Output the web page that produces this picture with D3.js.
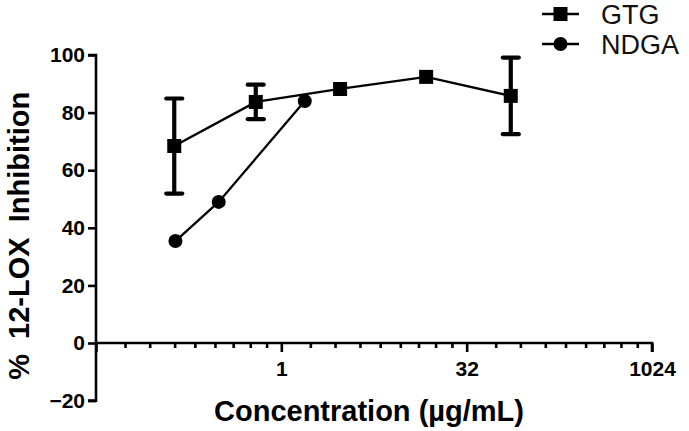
<!DOCTYPE html>
<html>
<head>
<meta charset="utf-8">
<script src="https://cdn.jsdelivr.net/npm/d3@7"></script>
<style>
  body { margin: 0; background: #fff; }
  svg text { font-family: "Liberation Sans", Arial, sans-serif; }
</style>
</head>
<body>
<svg id="chart" width="689" height="431"></svg>
<script>
// values
const gtgConc = [0.135, 0.62, 3.0, 15, 73];
const gtgMean = [68.4, 83.7, 88.2, 92.4, 85.8];
const gtgErr = [16.5, 6.0, 0, 0, 13.3];

const ndgaConc = [0.138, 0.31, 1.55];
const ndgaMean = [35.4, 49.0, 84.0];

const xMajor = [1 / 32, 1, 32, 1024];
const xMajorLabels = ["", "1", "32", "1024"];
const xMinorSteps = [1.72, 2.73, 4.35, 6.35, 9.25, 13.0, 17.9, 24.3];
const yTicks = [-20, 0, 20, 40, 60, 80, 100];

const seriesNames = ["GTG", "NDGA"];

const svg = d3.select("#chart");

const x = d3.scaleLog().base(2).domain([1 / 32, 1024]).range([96, 652]);
const y = d3.scaleLinear().domain([-20, 100]).range([400.6, 55]);

// minor tick values for every 32x band
var minor = [];
xMajor.slice(0, -1).forEach(m => xMinorSteps.forEach(s => minor.push(m * s)));

// y axis
const yAxis = svg.append("g")
  .attr("transform", `translate(${x.range()[0]},0)`)
  .call(d3.axisLeft(y).tickValues(yTicks).tickSize(8).tickPadding(3).tickFormat(d3.format("d")));

// x axis sits on y = 0
const xAxis = svg.append("g")
  .attr("transform", `translate(0,${y(0)})`)
  .call(d3.axisBottom(x).tickValues(xMajor).tickSize(9).tickPadding(9)
    .tickFormat((d, i) => xMajorLabels[i]));

svg.append("g")
  .attr("transform", `translate(0,${y(0)})`)
  .call(d3.axisBottom(x).tickValues(minor).tickSize(5).tickFormat(""))
  .call(g => g.select(".domain").remove());

svg.selectAll(".domain").attr("stroke", "#000").attr("stroke-width", 2.6);
svg.selectAll(".tick line").attr("stroke", "#000").attr("stroke-width", 2.6);
svg.selectAll(".tick text")
  .attr("fill", "#000")
  .attr("font-size", 21)
  .attr("font-weight", "bold");

// the axis line stops at the end ticks
xAxis.select(".domain").attr("d", `M${x.range()[0]},0H${x.range()[1]}V9`);
yAxis.select(".domain").attr("d", `M-8,${y.range()[1]}H0V${y.range()[0]}H-8`);

// axis titles
svg.append("text")
  .attr("x", 369).attr("y", 421)
  .attr("text-anchor", "middle")
  .attr("font-size", 29).attr("font-weight", "bold")
  .text("Concentration (µg/mL)");

svg.append("text")
  .attr("transform", `translate(29,${(y(100) + y(-20)) / 2 + 8}) rotate(-90)`)
  .attr("text-anchor", "middle")
  .attr("font-size", 29).attr("font-weight", "bold")
  .attr("word-spacing", 7)
  .text("% 12-LOX Inhibition");

const line = d3.line().x(d => x(d[0])).y(d => y(d[1]));

const gtg = d3.zip(gtgConc, gtgMean, gtgErr);
const ndga = d3.zip(ndgaConc, ndgaMean);

const plot = svg.append("g");

plot.append("path").datum(gtg).attr("d", line)
  .attr("fill", "none").attr("stroke", "#000").attr("stroke-width", 2.3);
plot.append("path").datum(ndga).attr("d", line)
  .attr("fill", "none").attr("stroke", "#000").attr("stroke-width", 2.3);

// error bars
const eb = plot.selectAll(".err").data(gtg.filter(d => d[2] > 0)).join("g").attr("class", "err");
eb.append("line")
  .attr("x1", d => x(d[0])).attr("x2", d => x(d[0]))
  .attr("y1", d => y(d[1] + d[2])).attr("y2", d => y(d[1] - d[2]))
  .attr("stroke", "#000").attr("stroke-width", 4.2);
eb.selectAll(".cap").data(d => [[d[0], d[1] + d[2]], [d[0], d[1] - d[2]]]).join("line")
  .attr("x1", d => x(d[0]) - 8).attr("x2", d => x(d[0]) + 8)
  .attr("y1", d => y(d[1])).attr("y2", d => y(d[1]))
  .attr("stroke", "#000").attr("stroke-width", 4.2).attr("stroke-linecap", "round");

// markers
plot.selectAll(".sq").data(gtg).join("rect")
  .attr("x", d => x(d[0]) - 7).attr("y", d => y(d[1]) - 7)
  .attr("width", 14).attr("height", 14).attr("fill", "#000");

plot.selectAll(".dot").data(ndga).join("circle")
  .attr("cx", d => x(d[0])).attr("cy", d => y(d[1])).attr("r", 7).attr("fill", "#000");

// legend
const legend = svg.append("g").selectAll("g").data(seriesNames).join("g")
  .attr("transform", (d, i) => `translate(542,${14 + i * 30})`);
legend.append("line").attr("x1", 0).attr("x2", 37)
  .attr("stroke", "#000").attr("stroke-width", 2.6);
legend.filter((d, i) => i === 0).append("rect")
  .attr("x", 11.5).attr("y", -7).attr("width", 14).attr("height", 14).attr("fill", "#000");
legend.filter((d, i) => i === 1).append("circle")
  .attr("cx", 18.5).attr("r", 7).attr("fill", "#000");
legend.append("text")
  .attr("x", 59).attr("dy", "0.36em")
  .attr("font-size", 27)
  .attr("fill", "#111")
  .text(d => d);
</script>
</body>
</html>
